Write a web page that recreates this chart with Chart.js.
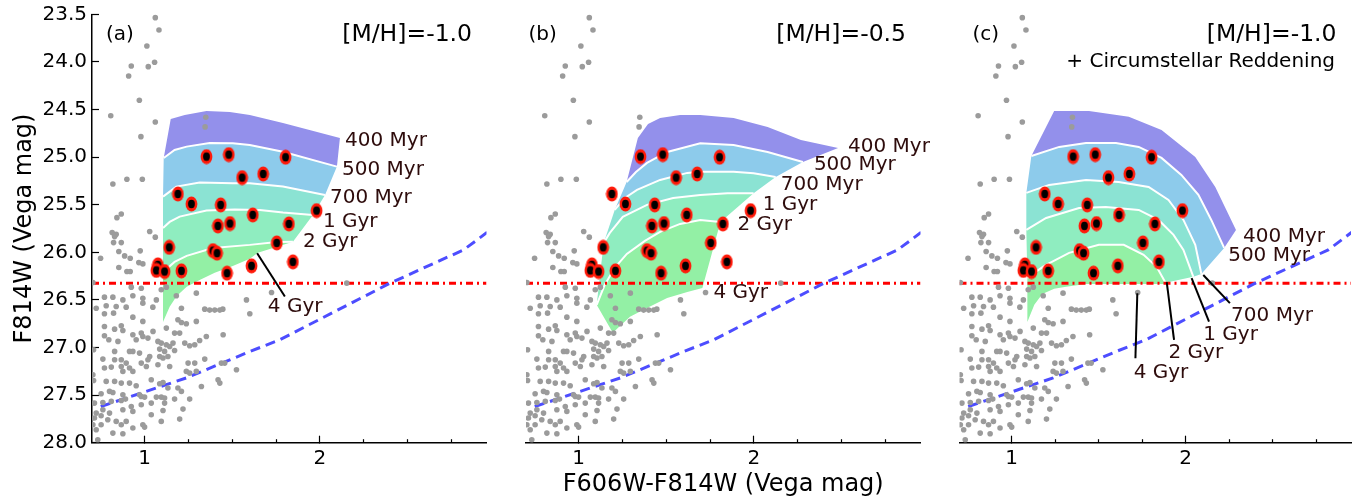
<!DOCTYPE html>
<html><head><meta charset="utf-8">
<script src="https://cdn.jsdelivr.net/npm/chart.js@4.4.1/dist/chart.umd.min.js"></script>
<style>
body{margin:0;background:#fff;width:1359px;height:499px;overflow:hidden;position:relative;}
canvas{position:absolute;top:0;}
</style></head><body>
<canvas id="ca" width="500" height="499" style="left:0px"></canvas>
<canvas id="cb" width="430" height="499" style="left:500px"></canvas>
<canvas id="cc" width="429" height="499" style="left:930px"></canvas>
<script>
const FONT = 'DejaVu Sans';
// ---------- DATA ----------
const xTicksMajor = [1, 2];
const xTicksMinor = [1.25, 1.5, 1.75, 2.25, 2.5, 2.75];
const yTicks = [23.5, 24.0, 24.5, 25.0, 25.5, 26.0, 26.5, 27.0, 27.5, 28.0];
const ageLabels = ['400 Myr', '500 Myr', '700 Myr', '1 Gyr', '2 Gyr', '4 Gyr'];
const magLimit = 26.324;
const completeness = [[0.75,27.62],[1.238,27.32],[1.6,27.042],[1.771,26.919],[2.4,26.324],[2.819,25.975],[2.954,25.79]];

const fieldStars = [
[1.061,23.535],[1.082,23.665],[1.013,23.833],[1.057,24.004],[0.924,24.043],[1.021,24.050],[0.909,24.148],[0.970,24.403],[0.807,24.565],[1.061,24.631],[1.349,24.581],[1.345,24.683],[0.979,24.785],[0.819,25.282],[0.899,25.232],[0.987,25.232],
[0.867,25.597],[0.842,25.636],[0.815,25.793],[0.838,25.810],[0.829,25.835],[0.823,25.898],[0.867,25.898],[1.029,25.782],[1.061,25.841],[0.975,25.985],[0.853,25.992],[0.749,26.062],[0.886,26.038],[0.918,26.062],[0.853,26.160],[0.899,26.202],[0.918,26.202],[0.967,26.108],[0.990,26.122],[0.705,26.318],[0.924,26.366],[0.981,26.377],[1.095,26.394],[0.771,26.471],[0.819,26.471],[0.876,26.500],[0.933,26.457],[0.990,26.482],[1.067,26.500],[1.181,26.457],[1.124,26.366],[1.295,26.429],[1.581,26.500],[1.724,26.423],[0.724,26.587],[0.781,26.562],[0.838,26.570],[0.895,26.576],[0.990,26.534],[1.047,26.576],[1.210,26.587],[1.343,26.597],[1.371,26.607],[1.400,26.607],[1.429,26.607],[1.446,26.597],[2.153,26.324],
[0.771,26.646],[0.823,26.639],[0.933,26.681],[0.990,26.726],[1.190,26.709],[1.210,26.737],[1.238,26.751],[1.295,26.726],[1.600,26.646],
[0.771,26.779],[0.867,26.772],[0.876,26.821],[0.829,26.807],[0.933,26.866],[0.981,26.849],[1.048,26.831],[1.124,26.796],[1.171,26.849],[1.200,26.849],
[0.771,26.877],[0.796,26.919],[0.848,26.936],[0.952,26.919],[0.990,26.884],[1.019,26.901],[1.076,26.936],[1.095,26.954],[1.124,26.971],[1.143,26.989],[1.162,26.954],[1.229,26.954],[1.257,26.982],[1.286,26.971],[1.314,26.926],[1.352,26.884],[1.448,26.866],
[0.709,27.024],[0.829,27.041],[0.914,27.041],[0.933,27.041],[0.971,27.059],[1.086,27.017],[1.114,27.041],[1.171,27.031],[1.029,27.094],
[0.762,27.122],[0.829,27.129],[0.867,27.129],[0.895,27.164],[0.981,27.164],[1.019,27.129],[1.086,27.094],[1.105,27.111],[1.133,27.094],
[0.771,27.216],[0.810,27.206],[0.867,27.199],[0.876,27.251],[0.914,27.216],[0.933,27.251],[1.010,27.199],[1.076,27.181],[1.143,27.199],[1.248,27.164],[1.286,27.164],[1.343,27.122],[1.438,27.164],[1.457,27.164],[1.524,27.234],
[0.705,27.286],[0.709,27.346],[0.781,27.356],[0.829,27.356],[0.867,27.374],[0.914,27.374],[0.952,27.402],[1.038,27.339],[1.086,27.381],[1.105,27.367],[1.133,27.426],[1.190,27.426],[1.238,27.251],[1.257,27.269],[1.295,27.251],[1.324,27.409],[1.419,27.339],[1.429,27.374],
[0.752,27.486],[0.800,27.461],[0.819,27.472],[0.876,27.496],[0.891,27.542],[0.971,27.496],[0.981,27.514],[1.000,27.521],[1.067,27.521],[1.095,27.521],[1.114,27.531],[1.171,27.542],[1.257,27.542],[1.210,27.461],
[0.714,27.584],[0.762,27.577],[0.810,27.566],[0.867,27.556],[0.924,27.619],[0.981,27.601],[1.038,27.584],[1.114,27.584],[0.762,27.654],[0.724,27.689],[0.800,27.689],[0.876,27.654],[0.933,27.671],[1.038,27.706],[1.105,27.661],[1.219,27.647],[1.200,27.752],
[0.714,27.741],[0.752,27.717],[0.790,27.759],[0.838,27.776],[0.867,27.811],[0.895,27.776],[0.990,27.811],[1.000,27.836],[1.095,27.776],[0.933,27.846],[0.705,27.811],[0.724,27.864],[0.752,27.811],[0.819,27.899],[0.876,27.906],[0.733,27.969]
];

const clusterStars = [
[1.353,24.995],[1.480,24.974],[1.804,25.001],[1.556,25.215],[1.676,25.177],[1.190,25.387],[1.267,25.492],[1.434,25.502],[1.617,25.607],[1.981,25.562],[1.418,25.723],[1.487,25.698],[1.823,25.702],[1.140,25.948],[1.390,25.982],[1.413,26.009],[1.754,25.901],[1.076,26.132],[1.067,26.190],[1.114,26.202],[1.210,26.195],[1.470,26.219],[1.610,26.142],[1.846,26.100]
];

// panel (a) isochrones, [M/H]=-1.0
const isoA400 = [[1.149,24.599],[1.229,24.557],[1.353,24.515],[1.486,24.526],[1.600,24.557],[1.789,24.641],[2.114,24.799]];
const isoA500 = [[1.109,25.009],[1.171,24.925],[1.240,24.890],[1.371,24.851],[1.503,24.855],[1.600,24.872],[1.789,24.943],[2.097,25.100]];
const isoA700 = [[1.105,25.415],[1.181,25.310],[1.314,25.268],[1.503,25.274],[1.600,25.274],[1.789,25.310],[2.029,25.397]];
const isoA1G  = [[1.105,25.744],[1.143,25.681],[1.200,25.625],[1.353,25.560],[1.514,25.550],[1.657,25.555],[1.789,25.583],[1.960,25.607]];
const isoA2G  = [[1.105,26.206],[1.171,26.101],[1.240,26.038],[1.389,25.954],[1.600,25.922],[1.754,25.891],[1.846,25.888]];
const isoA4G  = [[1.105,26.731],[1.143,26.573],[1.183,26.458],[1.240,26.363],[1.314,26.290],[1.400,26.216],[1.503,26.143],[1.600,26.069],[1.646,26.006]];
// panel (b) isochrones, [M/H]=-0.5
const isoB400 = [[1.338,24.799],[1.396,24.652],[1.465,24.589],[1.579,24.557],[1.694,24.557],[1.884,24.589],[2.078,24.683],[2.268,24.820],[2.480,24.904]];
const isoB500 = [[1.274,25.261],[1.327,25.156],[1.390,25.061],[1.505,24.946],[1.694,24.855],[1.884,24.872],[2.078,24.946],[2.279,25.051]];
const isoB700 = [[1.206,25.555],[1.264,25.429],[1.333,25.345],[1.465,25.240],[1.620,25.166],[1.694,25.153],[1.884,25.153],[1.998,25.170],[2.124,25.208]];
const isoB1G  = [[1.143,25.901],[1.178,25.796],[1.252,25.628],[1.390,25.502],[1.539,25.429],[1.694,25.397],[1.849,25.379],[1.998,25.379]];
const isoB2G  = [[1.103,26.552],[1.149,26.342],[1.206,26.164],[1.275,26.017],[1.378,25.880],[1.465,25.786],[1.579,25.702],[1.694,25.660],[1.809,25.681]];
const isoB4G  = [[1.195,26.846],[1.293,26.678],[1.390,26.584],[1.505,26.479],[1.620,26.416],[1.706,26.374]];
// panel (c) isochrones, [M/H]=-1.0 + circumstellar reddening
const isoC400 = [[1.244,24.515],[1.444,24.515],[1.673,24.575],[1.861,24.715],[2.055,24.998],[2.170,25.313],[2.289,25.765]];
const isoC500 = [[1.113,24.988],[1.273,24.893],[1.427,24.851],[1.599,24.851],[1.730,24.893],[1.861,25.009],[1.975,25.187],[2.073,25.397],[2.147,25.660],[2.221,25.954]];
const isoC700 = [[1.084,25.376],[1.215,25.292],[1.427,25.240],[1.615,25.261],[1.787,25.313],[1.901,25.450],[1.987,25.660],[2.055,25.922],[2.090,26.227]];
const isoC1G  = [[1.084,25.765],[1.198,25.639],[1.387,25.534],[1.541,25.523],[1.730,25.555],[1.844,25.660],[1.930,25.817],[1.987,25.975],[2.044,26.258]];
const isoC2G  = [[1.090,26.269],[1.187,26.143],[1.330,26.006],[1.501,25.922],[1.644,25.922],[1.758,26.027],[1.833,26.153],[1.884,26.321]];
const isoC4G  = [[1.090,26.731],[1.130,26.552],[1.176,26.437],[1.244,26.384],[1.313,26.363],[1.427,26.332],[1.884,26.332]];

// label anchors (data coords) and pointer lines
const labelPosA = [[2.143,24.830],[2.126,25.135],[2.057,25.429],[2.017,25.681],[1.903,25.891],[1.703,26.573]];
const labelPosB = [[2.537,24.893],[2.342,25.082],[2.153,25.292],[2.050,25.502],[1.906,25.712],[1.769,26.426]];
const labelPosC = [[2.330,25.838],[2.244,26.038],[2.261,26.668],[2.101,26.867],[1.901,27.056],[1.701,27.266]];
const pointersA = [[[1.642,26.010],[1.800,26.465]]];
const pointersB = [];
const pointersC = [[[2.101,26.238],[2.254,26.534]],[[2.034,26.272],[2.134,26.728]],[[1.891,26.314],[1.933,26.920]],[[1.722,26.430],[1.711,27.112]]];

// ---------- STYLE ----------
const bandColors = ['#9390eb', '#8dcbeb', '#8be3d3', '#8fedc0', '#93f0a5'];
const pts = a => a.map(p => ({x: p[0], y: p[1]}));

function starMarker() {
  const c = document.createElement('canvas'); c.width = 13; c.height = 16;
  const g = c.getContext('2d');
  g.fillStyle = '#ff1a0a'; g.beginPath(); g.ellipse(6.5, 8, 5.9, 7.4, 0, 0, Math.PI * 2); g.fill();
  g.fillStyle = '#000'; g.beginPath(); g.ellipse(6.5, 8, 3.4, 4.2, 0, 0, Math.PI * 2); g.fill();
  return c;
}
const STAR = starMarker();

function makePanel(id, cfg) {
  const ds = [];
  for (let i = 0; i < 5; i++) {
    ds.push({data: pts(cfg.iso[i].concat(cfg.iso[i + 1].slice().reverse())), showLine: true, fill: 'shape',
      backgroundColor: bandColors[i], borderColor: 'transparent', borderWidth: 0, pointRadius: 0, tension: 0, order: 100});
  }
  for (let i = 1; i < 5; i++) {
    ds.push({data: pts(cfg.iso[i]), showLine: true, borderColor: '#ffffff', borderWidth: 2, pointRadius: 0, fill: false, order: 90});
  }
  ds.push({data: pts([[0.7, magLimit], [2.95, magLimit]]), showLine: true, borderColor: '#ff0000', borderWidth: 3,
    borderDash: [7, 4, 2, 4], pointRadius: 0, fill: false, order: 80});
  ds.push({data: pts(completeness), showLine: true, borderColor: '#4d4dff', borderWidth: 3, borderDash: [10, 6],
    pointRadius: 0, fill: false, order: 70});
  ds.push({data: pts(fieldStars), pointRadius: 2.8, backgroundColor: '#9b9b9b', borderWidth: 0, order: 60});
  ds.push({data: pts(clusterStars), pointStyle: STAR, pointRadius: 7, order: 50});
  cfg.pointers.forEach(p => ds.push({data: pts(p), showLine: true, borderColor: '#000', borderWidth: 2, pointRadius: 0, fill: false, order: 40}));

  const textPlugin = {
    id: 'texts',
    afterDatasetsDraw(chart) {
      const {ctx, chartArea: a, scales: {x, y}} = chart;
      ctx.save();
      ctx.textBaseline = 'middle';
      ctx.textAlign = 'left';
      ctx.fillStyle = '#2e0c0c';
      ctx.font = '20px "' + FONT + '"';
      cfg.labels.forEach((p, i) => ctx.fillText(ageLabels[i], x.getPixelForValue(p[0]), y.getPixelForValue(p[1])));
      ctx.fillStyle = '#000';
      ctx.fillText(cfg.letter, a.left + cfg.letterDx, 35);
      ctx.textAlign = 'right';
      ctx.font = '23.5px "' + FONT + '"';
      ctx.fillText(cfg.metal, a.right - 14.5, 35);
      if (cfg.extra) { ctx.font = '20px "' + FONT + '"'; ctx.fillText(cfg.extra, a.right - 16, 62); }
      ctx.restore();
    }
  };

  const yScale = {
    type: 'linear', reverse: true, min: 23.5, max: 28, display: cfg.showY,
    afterBuildTicks: s => { s.ticks = yTicks.map(v => ({value: v})); },
    ticks: {callback: v => Number(v).toFixed(1), font: {family: FONT, size: 20}, color: '#000', padding: 12},
    grid: {drawOnChartArea: false, tickLength: -7, tickColor: '#000', tickWidth: 1.2},
    border: {color: '#000', width: 1.5},
    title: {display: cfg.showY, text: 'F814W (Vega mag)', font: {family: FONT, size: 24}, color: '#000', padding: {top: 10.5, bottom: 0}}
  };
  if (cfg.showY) yScale.afterFit = s => { s.width = 92; s.paddingTop = 0; s.paddingBottom = 0; };

  new Chart(document.getElementById(id), {
    type: 'scatter',
    data: {datasets: ds},
    options: {
      responsive: false, animation: false, events: [], devicePixelRatio: 1,
      layout: {padding: {top: 14.3, bottom: 0, left: cfg.pl, right: cfg.pr}},
      plugins: {legend: {display: false}, tooltip: {enabled: false}},
      scales: {
        x: {
          type: 'linear', position: 'bottom', min: 0.7, max: 2.95, weight: 1,
          afterBuildTicks: s => { s.ticks = xTicksMajor.map(v => ({value: v})); },
          ticks: {callback: v => String(v), font: {family: FONT, size: 20}, color: '#000', padding: 10.6, maxRotation: 0, autoSkip: false},
          grid: {drawOnChartArea: false, tickLength: -7, tickColor: '#000', tickWidth: 1.2},
          border: {color: '#000', width: 1.5},
          title: {display: cfg.showXTitle, text: 'F606W-F814W (Vega mag)', font: {family: FONT, size: 24}, color: '#000', padding: {top: 0, bottom: 0}},
          afterFit: s => { s.height = 56.3; s.paddingLeft = 0; s.paddingRight = 0; }
        },
        xm: {
          type: 'linear', position: 'bottom', min: 0.7, max: 2.95, weight: 0,
          afterBuildTicks: s => { s.ticks = xTicksMinor.map(v => ({value: v})); },
          ticks: {display: false},
          grid: {drawOnChartArea: false, tickLength: -3.5, tickColor: '#000', tickWidth: 1.2},
          border: {display: false},
          afterFit: s => { s.height = 0; s.paddingLeft = 0; s.paddingRight = 0; }
        },
        y: yScale
      }
    },
    plugins: [textPlugin]
  });
}

makePanel('ca', {iso: [isoA400, isoA500, isoA700, isoA1G, isoA2G, isoA4G], labels: labelPosA, pointers: pointersA,
  showY: true, showXTitle: false, pl: 0, pr: 13.5, letter: '(a)', letterDx: 14, metal: '[M/H]=-1.0', extra: null});
makePanel('cb', {iso: [isoB400, isoB500, isoB700, isoB1G, isoB2G, isoB4G], labels: labelPosB, pointers: pointersB,
  showY: false, showXTitle: true, pl: 26, pr: 9.5, letter: '(b)', letterDx: 2.5, metal: '[M/H]=-0.5', extra: null});
makePanel('cc', {iso: [isoC400, isoC500, isoC700, isoC1G, isoC2G, isoC4G], labels: labelPosC, pointers: pointersC,
  showY: false, showXTitle: false, pl: 29.5, pr: 5, letter: '(c)', letterDx: 13, metal: '[M/H]=-1.0', extra: '+ Circumstellar Reddening'});
</script></body></html>
